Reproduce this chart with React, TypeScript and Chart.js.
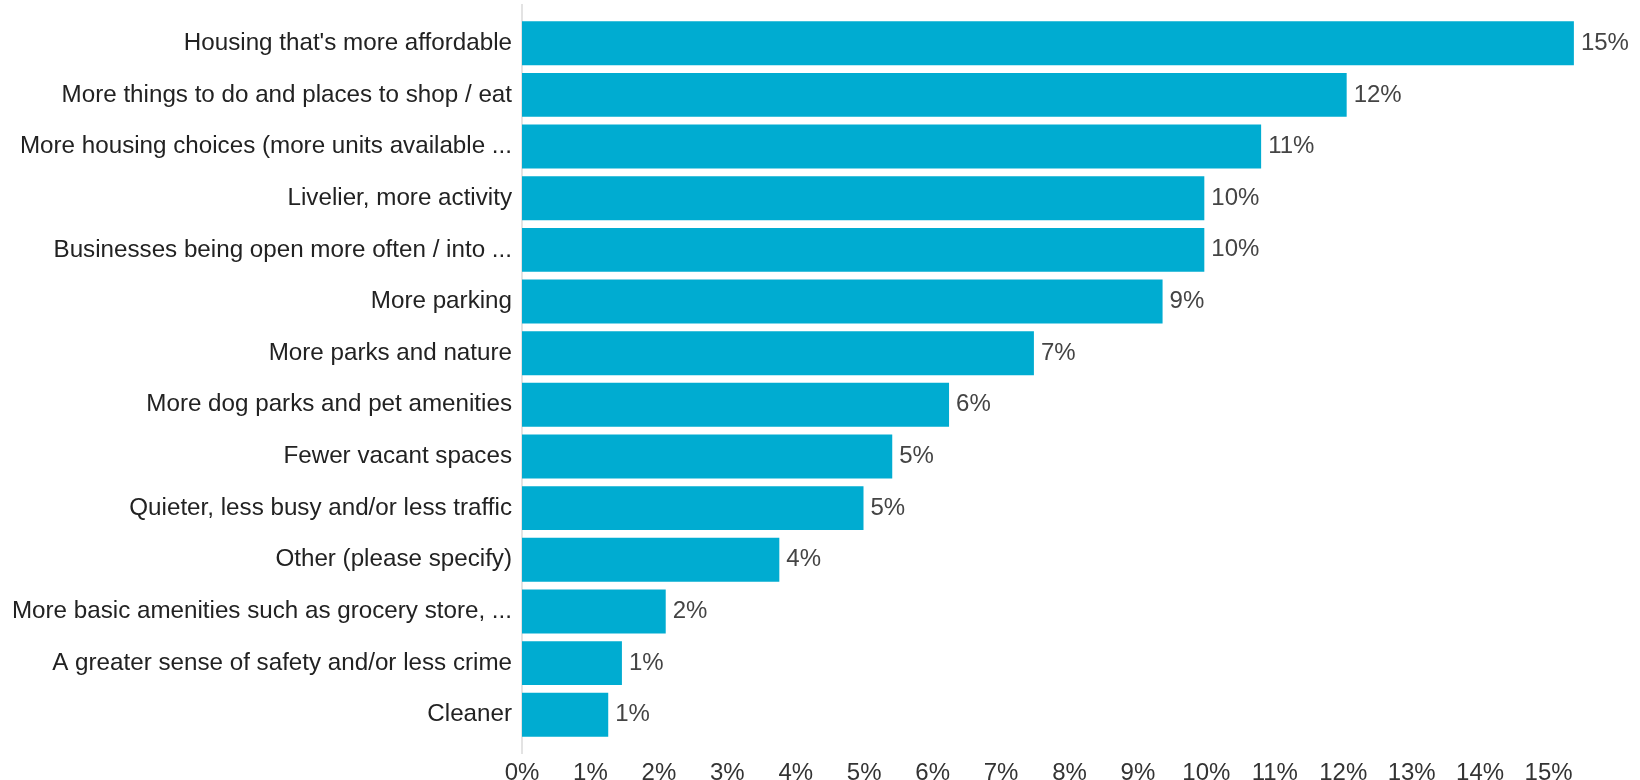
import React, { useEffect, useRef } from "react";
import { Chart, registerables } from "chart.js";

Chart.register(...registerables);

const categories: string[] = [
  "Housing that's more affordable",
  "More things to do and places to shop / eat",
  "More housing choices (more units available ...",
  "Livelier, more activity",
  "Businesses being open more often / into ...",
  "More parking",
  "More parks and nature",
  "More dog parks and pet amenities",
  "Fewer vacant spaces",
  "Quieter, less busy and/or less traffic",
  "Other (please specify)",
  "More basic amenities such as grocery store, ...",
  "A greater sense of safety and/or less crime",
  "Cleaner",
];

const values: number[] = [
  15.37, 12.05, 10.8, 9.97, 9.97, 9.36, 7.48, 6.24, 5.41, 4.99, 3.76, 2.1, 1.46, 1.26,
];

const xTickMax = 15;
const FONT = "'Liberation Sans', Arial, sans-serif";

const dataLabelPlugin = {
  id: "dataLabels",
  afterDatasetsDraw(chart: any) {
    const ctx = chart.ctx;
    const meta = chart.getDatasetMeta(0);
    ctx.save();
    ctx.font = `24px ${FONT}`;
    ctx.fillStyle = "#444444";
    ctx.textAlign = "left";
    ctx.textBaseline = "middle";
    meta.data.forEach((el: any, i: number) => {
      ctx.fillText(`${Math.round(values[i])}%`, el.x + 7, el.y);
    });
    ctx.restore();
  },
};

export default function App() {
  const canvasRef = useRef<HTMLCanvasElement | null>(null);

  useEffect(() => {
    if (!canvasRef.current) return;
    const chart = new Chart(canvasRef.current, {
      type: "bar",
      data: {
        datasets: [
          {
            data: values.map((v, i) => ({ x: v, y: i })) as any,
            backgroundColor: "#00ACD1",
            borderWidth: 0,
            barPercentage: 0.85,
            categoryPercentage: 1,
          },
        ],
      },
      options: {
        indexAxis: "y",
        animation: false,
        responsive: false,
        layout: { padding: { top: 5, right: 23, bottom: 0, left: 0 } },
        plugins: {
          legend: { display: false },
          tooltip: { enabled: false },
        },
        scales: {
          x: {
            type: "linear",
            min: 0,
            max: 16,
            offset: false,
            grid: { display: false, drawTicks: false },
            border: { display: false },
            afterFit: (scale: any) => {
              scale.height = 27;
            },
            ticks: {
              stepSize: 1,
              padding: 6,
              color: "#333333",
              font: { family: FONT, size: 24 },
              callback: (v: any) => (v <= xTickMax ? `${v}%` : ""),
            },
          },
          y: {
            type: "linear",
            reverse: true,
            offset: false,
            min: -0.74,
            max: categories.length - 1 + 0.74,
            grid: { display: false, drawTicks: false, offset: false },
            border: { display: true, color: "#e3e3e3", width: 2 },
            afterFit: (scale: any) => {
              scale.width = 522;
              scale.paddingTop = 0;
              scale.paddingBottom = 0;
            },
            ticks: {
              stepSize: 1,
              autoSkip: false,
              includeBounds: false,
              padding: 10,
              color: "#222222",
              font: { family: FONT, size: 24.2 },
              callback: (v: any) => categories[v] ?? "",
            },
          },
        },
      },
      plugins: [dataLabelPlugin],
    });
    return () => chart.destroy();
  }, []);

  return (
    <div style={{ position: "absolute", left: 0, top: 0, width: 1640, height: 780, background: "#fff" }}>
      <canvas ref={canvasRef} width={1640} height={780} style={{ display: "block" }} />
    </div>
  );
}
